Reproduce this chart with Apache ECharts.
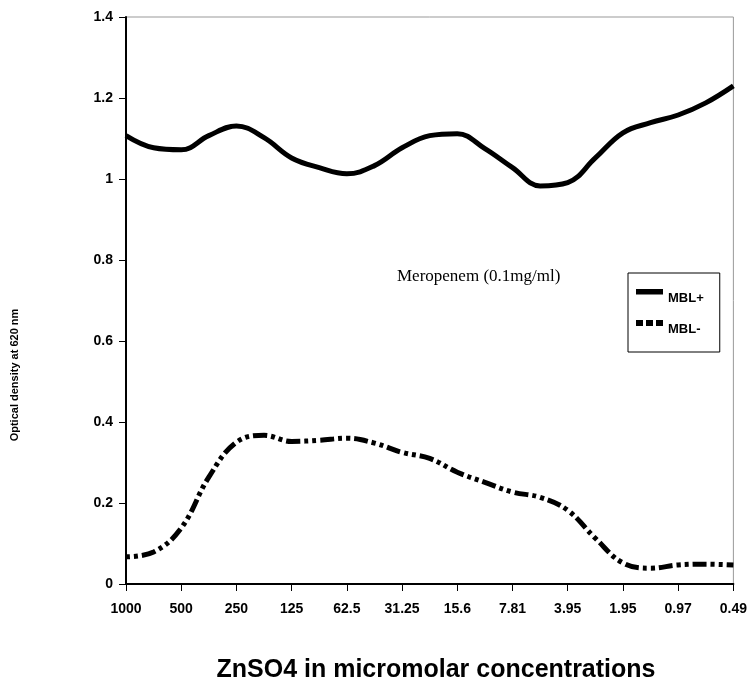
<!DOCTYPE html>
<html>
<head>
<meta charset="utf-8">
<script src="https://cdn.jsdelivr.net/npm/echarts@6/dist/echarts.min.js"></script>
<style>
  html, body { margin: 0; padding: 0; background: #fff; }
  #chart { width: 750px; height: 686px; }
</style>
</head>
<body>
<div id="chart"></div>
<script>
// ZnSO4 concentrations (micromolar), one tick each
var concentrations = ['1000', '500', '250', '125', '62.5', '31.25', '15.6', '7.81', '3.95', '1.95', '0.97', '0.49'];
// curve read at every half step between ticks (0, 0.5, 1 ... 11)
var steps = [0, 0.5, 1, 1.5, 2, 2.5, 3, 3.5, 4, 4.5, 5, 5.5, 6, 6.5, 7, 7.5, 8, 8.5, 9, 9.5, 10, 10.5, 11];
var mblPlus = [1.107, 1.077, 1.072, 1.107, 1.131, 1.102, 1.052, 1.028, 1.013, 1.033, 1.077, 1.107,
  1.112, 1.075, 1.028, 0.983, 0.991, 1.052, 1.114, 1.139, 1.158, 1.188, 1.23];
var mblMinus = [0.067, 0.079, 0.138, 0.264, 0.35, 0.367, 0.352, 0.355, 0.36, 0.348, 0.325, 0.31,
  0.276, 0.251, 0.227, 0.214, 0.182, 0.113, 0.052, 0.039, 0.047, 0.049, 0.047];

function pairs(ys) {
  return steps.map(function (x, i) { return [x, ys[i]]; });
}

var chart = echarts.init(document.getElementById('chart'));

var option = {
  animation: false,
  backgroundColor: '#fff',
  grid: { left: 126, right: 15, top: 17, bottom: 102, show: true, borderColor: '#999', borderWidth: 1 },
  xAxis: {
    type: 'value',
    min: 0,
    max: concentrations.length - 1,
    interval: 1,
    axisLine: { lineStyle: { color: '#000', width: 2 } },
    axisTick: { length: 7, lineStyle: { color: '#000' } },
    axisLabel: {
      color: '#000', fontWeight: 'bold', fontSize: 14, fontFamily: 'Arial', margin: 18,
      formatter: function (v) { return concentrations[v]; }
    },
    splitLine: { show: false }
  },
  yAxis: {
    type: 'value',
    min: 0,
    max: 1.4,
    interval: 0.2,
    axisLine: { show: true, lineStyle: { color: '#000', width: 2 } },
    axisTick: { show: true, length: 7, lineStyle: { color: '#000' } },
    axisLabel: {
      color: '#000', fontWeight: 'bold', fontSize: 14, fontFamily: 'Arial', margin: 13,
      formatter: function (v) { return String(Math.round(v * 10) / 10); }
    },
    splitLine: { show: false }
  },
  legend: {
    orient: 'vertical',
    left: 628,
    top: 273,
    padding: [16, 16, 14, 8],
    itemGap: 13,
    itemWidth: 27,
    itemHeight: 18,
    borderColor: '#000',
    borderWidth: 1,
    borderRadius: 0,
    backgroundColor: '#fff',
    textStyle: { color: '#000', fontWeight: 'bold', fontSize: 13, fontFamily: 'Arial' },
    // icons sit in the top part of the item so the label falls a little lower, as in the original
    data: [
      { name: 'MBL+', icon: 'path://M0,0H27V5.5H0Z M0,17.9H0.1V18H0Z' },
      { name: 'MBL-', icon: 'path://M0,0H7V6H0Z M10,0H17V6H10Z M20,0H27V6H20Z M0,17.9H0.1V18H0Z' }
    ]
  },
  graphic: [
    {
      type: 'text',
      left: 397,
      top: 268,
      style: { text: 'Meropenem (0.1mg/ml)', fill: '#000', font: '17px "Liberation Serif", "Times New Roman", serif' }
    },
    {
      type: 'text',
      x: 15,
      y: 375,
      rotation: Math.PI / 2,
      style: {
        text: 'Optical density at 620 nm', fill: '#000', align: 'center', verticalAlign: 'middle',
        font: 'bold 11px Arial'
      }
    },
    {
      type: 'text',
      x: 436,
      y: 670,
      style: {
        text: 'ZnSO4 in micromolar concentrations', fill: '#000', align: 'center', verticalAlign: 'middle',
        font: 'bold 25px Arial'
      }
    }
  ],
  series: [
    {
      name: 'MBL+',
      type: 'line',
      data: pairs(mblPlus),
      smooth: 0.4,
      symbol: 'none',
      lineStyle: { color: '#000', width: 5 },
      itemStyle: { color: '#000' }
    },
    {
      name: 'MBL-',
      type: 'line',
      data: pairs(mblMinus),
      smooth: 0.4,
      symbol: 'none',
      lineStyle: { color: '#000', width: 5, type: [4, 4, 4, 4, 14, 4] },
      itemStyle: { color: '#000' }
    }
  ]
};

chart.setOption(option);
</script>
</body>
</html>
